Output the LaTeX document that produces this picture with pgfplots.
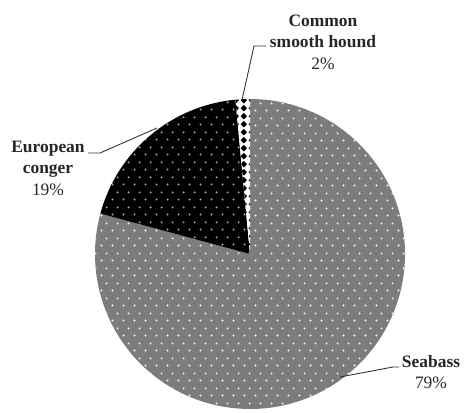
\documentclass[border=0pt]{standalone}
\usepackage{pgfplots}
\pgfplotsset{compat=1.18}
\usepackage{pgfplotstable}
\usepackage{fontspec}
\setmainfont{Liberation Serif}
\usetikzlibrary{patterns.meta}

\definecolor{seagrey}{HTML}{7C7C7C}
\definecolor{txt}{HTML}{262626}

\tikzdeclarepattern{
  name=sparsedots,
  type=uncolored,
  bounding box={(0bp,0bp) and (11bp,15bp)},
  tile size={(11bp,15bp)},
  code={
    \pgfpathcircle{\pgfqpoint{2.75bp}{3.75bp}}{1.15bp}
    \pgfpathcircle{\pgfqpoint{8.25bp}{11.25bp}}{1.15bp}
    \pgfusepath{fill}
  }
}
\tikzdeclarepattern{
  name=diamondcol,
  type=uncolored,
  bounding box={(0bp,0bp) and (8.3bp,8.3bp)},
  tile size={(8.3bp,8.3bp)},
  code={
    \pgfpathmoveto{\pgfqpoint{4.15bp}{0.55bp}}
    \pgfpathlineto{\pgfqpoint{7.6bp}{4.15bp}}
    \pgfpathlineto{\pgfqpoint{4.15bp}{7.75bp}}
    \pgfpathlineto{\pgfqpoint{0.7bp}{4.15bp}}
    \pgfpathclose
    \pgfusepath{fill}
  }
}

\pgfplotstableread{
label value
Seabass 79.2
Conger 19.3
Hound 1.5
}\piedata

\begin{document}
\begin{tikzpicture}
\pgfplotstablegetelem{0}{value}\of\piedata \pgfmathsetmacro{\va}{\pgfplotsretval}
\pgfplotstablegetelem{1}{value}\of\piedata \pgfmathsetmacro{\vb}{\pgfplotsretval}
\pgfplotstablegetelem{2}{value}\of\piedata \pgfmathsetmacro{\vc}{\pgfplotsretval}
\pgfmathsetmacro{\aA}{90}
\pgfmathsetmacro{\aB}{90-3.6*\va}
\pgfmathsetmacro{\aC}{\aB-3.6*\vb}
\pgfmathsetmacro{\aD}{\aC-3.6*\vc}
\begin{axis}[
  scale only axis, width=464bp, height=413bp,
  xmin=0, xmax=464, ymin=0, ymax=413,
  hide axis, clip=false,
]
% fixed bounding box
\path (axis cs:0,0) rectangle (axis cs:464,413);
% Seabass
\path[fill=seagrey, postaction={pattern=sparsedots, pattern color=white!92!gray}]
  (axis cs:250,159) -- ++(\aA:155bp) arc[start angle=\aA, end angle=\aB, radius=155bp] -- cycle;
% European conger
\path[fill=black, postaction={pattern=sparsedots, pattern color=gray!70}]
  (axis cs:250,159) -- ++(\aB:155bp) arc[start angle=\aB, end angle=\aC, radius=155bp] -- cycle;
% Common smooth hound
\path[fill=white, postaction={pattern=diamondcol, pattern color=black}]
  (axis cs:250,159) -- ++(\aC:155bp) arc[start angle=\aC, end angle=\aD, radius=155bp] -- cycle;

% leader lines
\addplot[black!80, line width=0.9bp, mark=none] coordinates {(242,313) (254,367) (266,367)};
\addplot[black!80, line width=0.9bp, mark=none] coordinates {(88,260) (100,260) (157,285)};
\addplot[black!80, line width=0.9bp, mark=none] coordinates {(340,36) (393,46) (399,46)};

% labels
\node[text=txt, align=center, font=\fontsize{17.5}{21.5}\selectfont, inner sep=0pt]
  at (axis cs:323,371) {\textbf{Common}\\\textbf{smooth hound}\\2\%};
\node[text=txt, align=center, font=\fontsize{17.5}{21.5}\selectfont, inner sep=0pt]
  at (axis cs:48,245) {\textbf{European}\\\textbf{conger}\\19\%};
\node[text=txt, align=center, font=\fontsize{17.5}{21.5}\selectfont, inner sep=0pt]
  at (axis cs:431,41) {\textbf{Seabass}\\79\%};
\end{axis}
\end{tikzpicture}
\end{document}
